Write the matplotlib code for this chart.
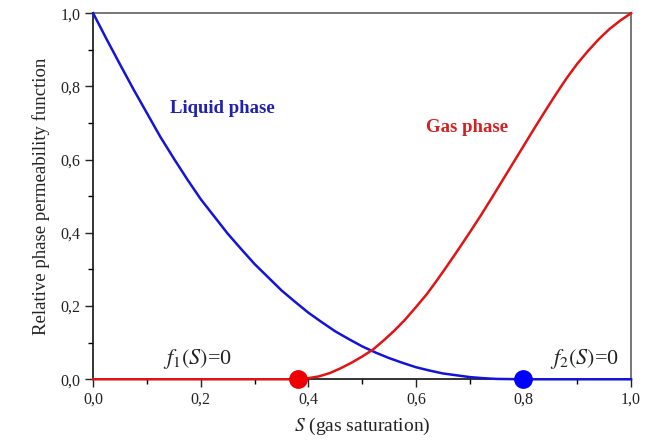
import matplotlib
matplotlib.use('Agg')
import matplotlib.pyplot as plt
from matplotlib.ticker import MultipleLocator, FuncFormatter

plt.rcParams['font.family'] = ['Liberation Serif', 'DejaVu Serif']
plt.rcParams['mathtext.fontset'] = 'stix'

# liquid phase (blue)
s_liquid = [0.000, 0.025, 0.050, 0.075, 0.100, 0.125, 0.150, 0.175, 0.200, 0.225,
            0.250, 0.275, 0.300, 0.325, 0.350, 0.375, 0.400, 0.425, 0.450, 0.475,
            0.500, 0.525, 0.550, 0.575, 0.600, 0.625, 0.650, 0.675, 0.700, 0.725,
            0.750, 0.800, 0.850, 0.900, 0.950, 1.000]
f_liquid = [1.000, 0.929, 0.860, 0.792, 0.727, 0.662, 0.603, 0.546, 0.492, 0.445,
            0.398, 0.356, 0.315, 0.279, 0.243, 0.212, 0.182, 0.156, 0.131, 0.110,
            0.090, 0.073, 0.058, 0.045, 0.033, 0.024, 0.016, 0.011, 0.006, 0.003,
            0.001, 0.0, 0.0, 0.0, 0.0, 0.0]

# gas phase (red)
s_gas = [0.00, 0.10, 0.20, 0.30, 0.38, 0.40, 0.42, 0.44, 0.46, 0.48, 0.50, 0.52, 0.54,
         0.56, 0.58, 0.60, 0.62, 0.64, 0.66, 0.68, 0.70, 0.72, 0.74, 0.76, 0.78,
         0.80, 0.82, 0.84, 0.86, 0.88, 0.90, 0.92, 0.94, 0.96, 0.98, 1.00]
f_gas = [0.0, 0.0, 0.0, 0.0, 0.0, 0.003, 0.008, 0.017, 0.030, 0.045, 0.062, 0.081, 0.106,
         0.133, 0.163, 0.197, 0.232, 0.272, 0.314, 0.357, 0.401, 0.446, 0.493, 0.541, 0.589,
         0.637, 0.685, 0.732, 0.778, 0.822, 0.862, 0.897, 0.929, 0.957, 0.980, 1.000]

# points where f1 / f2 vanish
s_gas_start = 0.38
s_liquid_end = 0.80

fig = plt.figure(figsize=(6.56, 4.40), dpi=100)
ax = fig.add_axes([0.142, 0.138, 0.820, 0.832])

ax.plot(s_liquid, f_liquid, color='#1414d8', lw=1.8, clip_on=False, zorder=3,
        solid_joinstyle='round')
ax.plot(s_gas, f_gas, color='#e01414', lw=1.8, clip_on=False, zorder=3,
        solid_joinstyle='round')
ax.plot([s_gas_start], [0], 'o', color='#ee0000', ms=12.5, clip_on=False, zorder=4)
ax.plot([s_liquid_end], [0], 'o', color='#0000ff', ms=12.5, clip_on=False, zorder=4)

ax.text(0.143, 0.741, 'Liquid phase', color='#2020b4', fontsize=13.5,
        fontweight='bold', va='center')
ax.text(0.619, 0.689, 'Gas phase', color='#d42020', fontsize=13.5,
        fontweight='bold', va='center')
ax.text(0.130, 0.055, r'$f_1(S)$=0', fontsize=16, va='center', color='#222222')
ax.text(0.850, 0.055, r'$f_2(S)$=0', fontsize=16, va='center', color='#222222')

ax.set_xlim(0, 1)
ax.set_ylim(0, 1)
comma = FuncFormatter(lambda v, p: f'{v:.1f}'.replace('.', ','))
for axis in (ax.xaxis, ax.yaxis):
    axis.set_major_locator(MultipleLocator(0.2))
    axis.set_minor_locator(MultipleLocator(0.1))
    axis.set_major_formatter(comma)
ax.tick_params(which='major', direction='out', length=6, width=1.0, labelsize=11.5,
               colors='#222222', pad=3)
ax.tick_params(which='minor', direction='out', length=3.5, width=1.0)

ax.spines['left'].set_color('#111111')
ax.spines['bottom'].set_color('#111111')
ax.spines['top'].set_color('#606060')
ax.spines['right'].set_color('#606060')
for sp in ax.spines.values():
    sp.set_linewidth(1.2)

ax.set_xlabel(r'$S$ (gas saturation)', fontsize=14, color='#222222', labelpad=6)
ax.set_ylabel('Relative phase permeability function', fontsize=13.5, color='#222222',
              labelpad=8)

plt.savefig('out.png', dpi=100)
plt.close()
